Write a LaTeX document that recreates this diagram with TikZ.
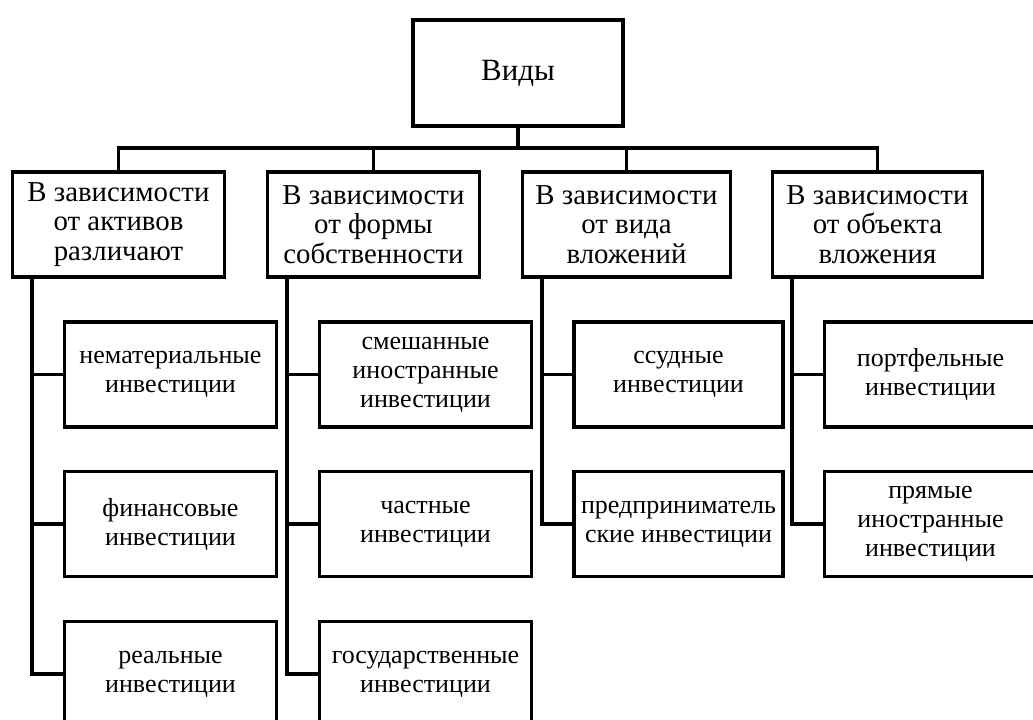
\documentclass[tikz,border=0pt]{standalone}
\usepackage{fontspec}
\setmainfont{Liberation Serif}
\begin{document}
\begin{tikzpicture}[
  x=0.025cm, y=-0.025cm,
  box/.style={draw, line width=2.6pt, align=center, inner sep=0pt, minimum width=5.3cm, minimum height=2.62cm, font=\fontsize{18.5}{20.6}\selectfont},
  head/.style={box, font=\fontsize{20.5}{21}\selectfont},
  link/.style={line width=2.6pt}
]
\useasboundingbox (0,0) rectangle (1033,719);
\clip (0,0) rectangle (1033,719);
\node[box, minimum width=5.25cm, minimum height=2.65cm, font=\fontsize{22}{24}\selectfont] (top) at (518,73) {Виды};
\node[head] (a1) at (118.5,224.5) {В зависимости\\от активов\\различают};
\node[head] (a2) at (373.5,224.5) {В зависимости\\от формы\\собственности};
\node[head, minimum width=5.2cm] (a3) at (626.5,224.5) {В зависимости\\от вида\\вложений};
\node[head, minimum width=5.25cm] (a4) at (877.5,224.5) {В зависимости\\от объекта\\вложения};
\node[box] (b11) at (170.5,374.5) {нематериальные\\инвестиции};
\node[box] (b12) at (170.5,524) {финансовые\\инвестиции};
\node[box] (b13) at (170.5,674) {реальные\\инвестиции};
\node[box] (b21) at (425.5,374.5) {смешанные\\иностранные\\инвестиции};
\node[box] (b22) at (425.5,524) {частные\\инвестиции};
\node[box] (b23) at (425.5,674) {государственные\\инвестиции};
\node[box, minimum width=5.22cm] (b31) at (678.5,374.5) {ссудные\\инвестиции};
\node[box, minimum width=5.22cm] (b32) at (678.5,524) {предприниматель\\ские инвестиции};
\node[box] (b41) at (930.5,374.5) {портфельные\\инвестиции};
\node[box] (b42) at (930.5,524) {прямые\\иностранные\\инвестиции};
\coordinate (bus) at (0,148);
\draw[link] (a1.north) |- (a4.north |- bus) -- (a4.north);
\foreach \n in {top.south, a2.north, a3.north} \draw[link] (\n) -- (\n |- bus);
\foreach \p/\k in {a1/b11, a1/b12, a1/b13, a2/b21, a2/b22, a2/b23, a3/b31, a3/b32, a4/b41, a4/b42}
  \draw[link] ([xshift=0.53cm]\p.south west) |- (\k.west);
\end{tikzpicture}
\end{document}
